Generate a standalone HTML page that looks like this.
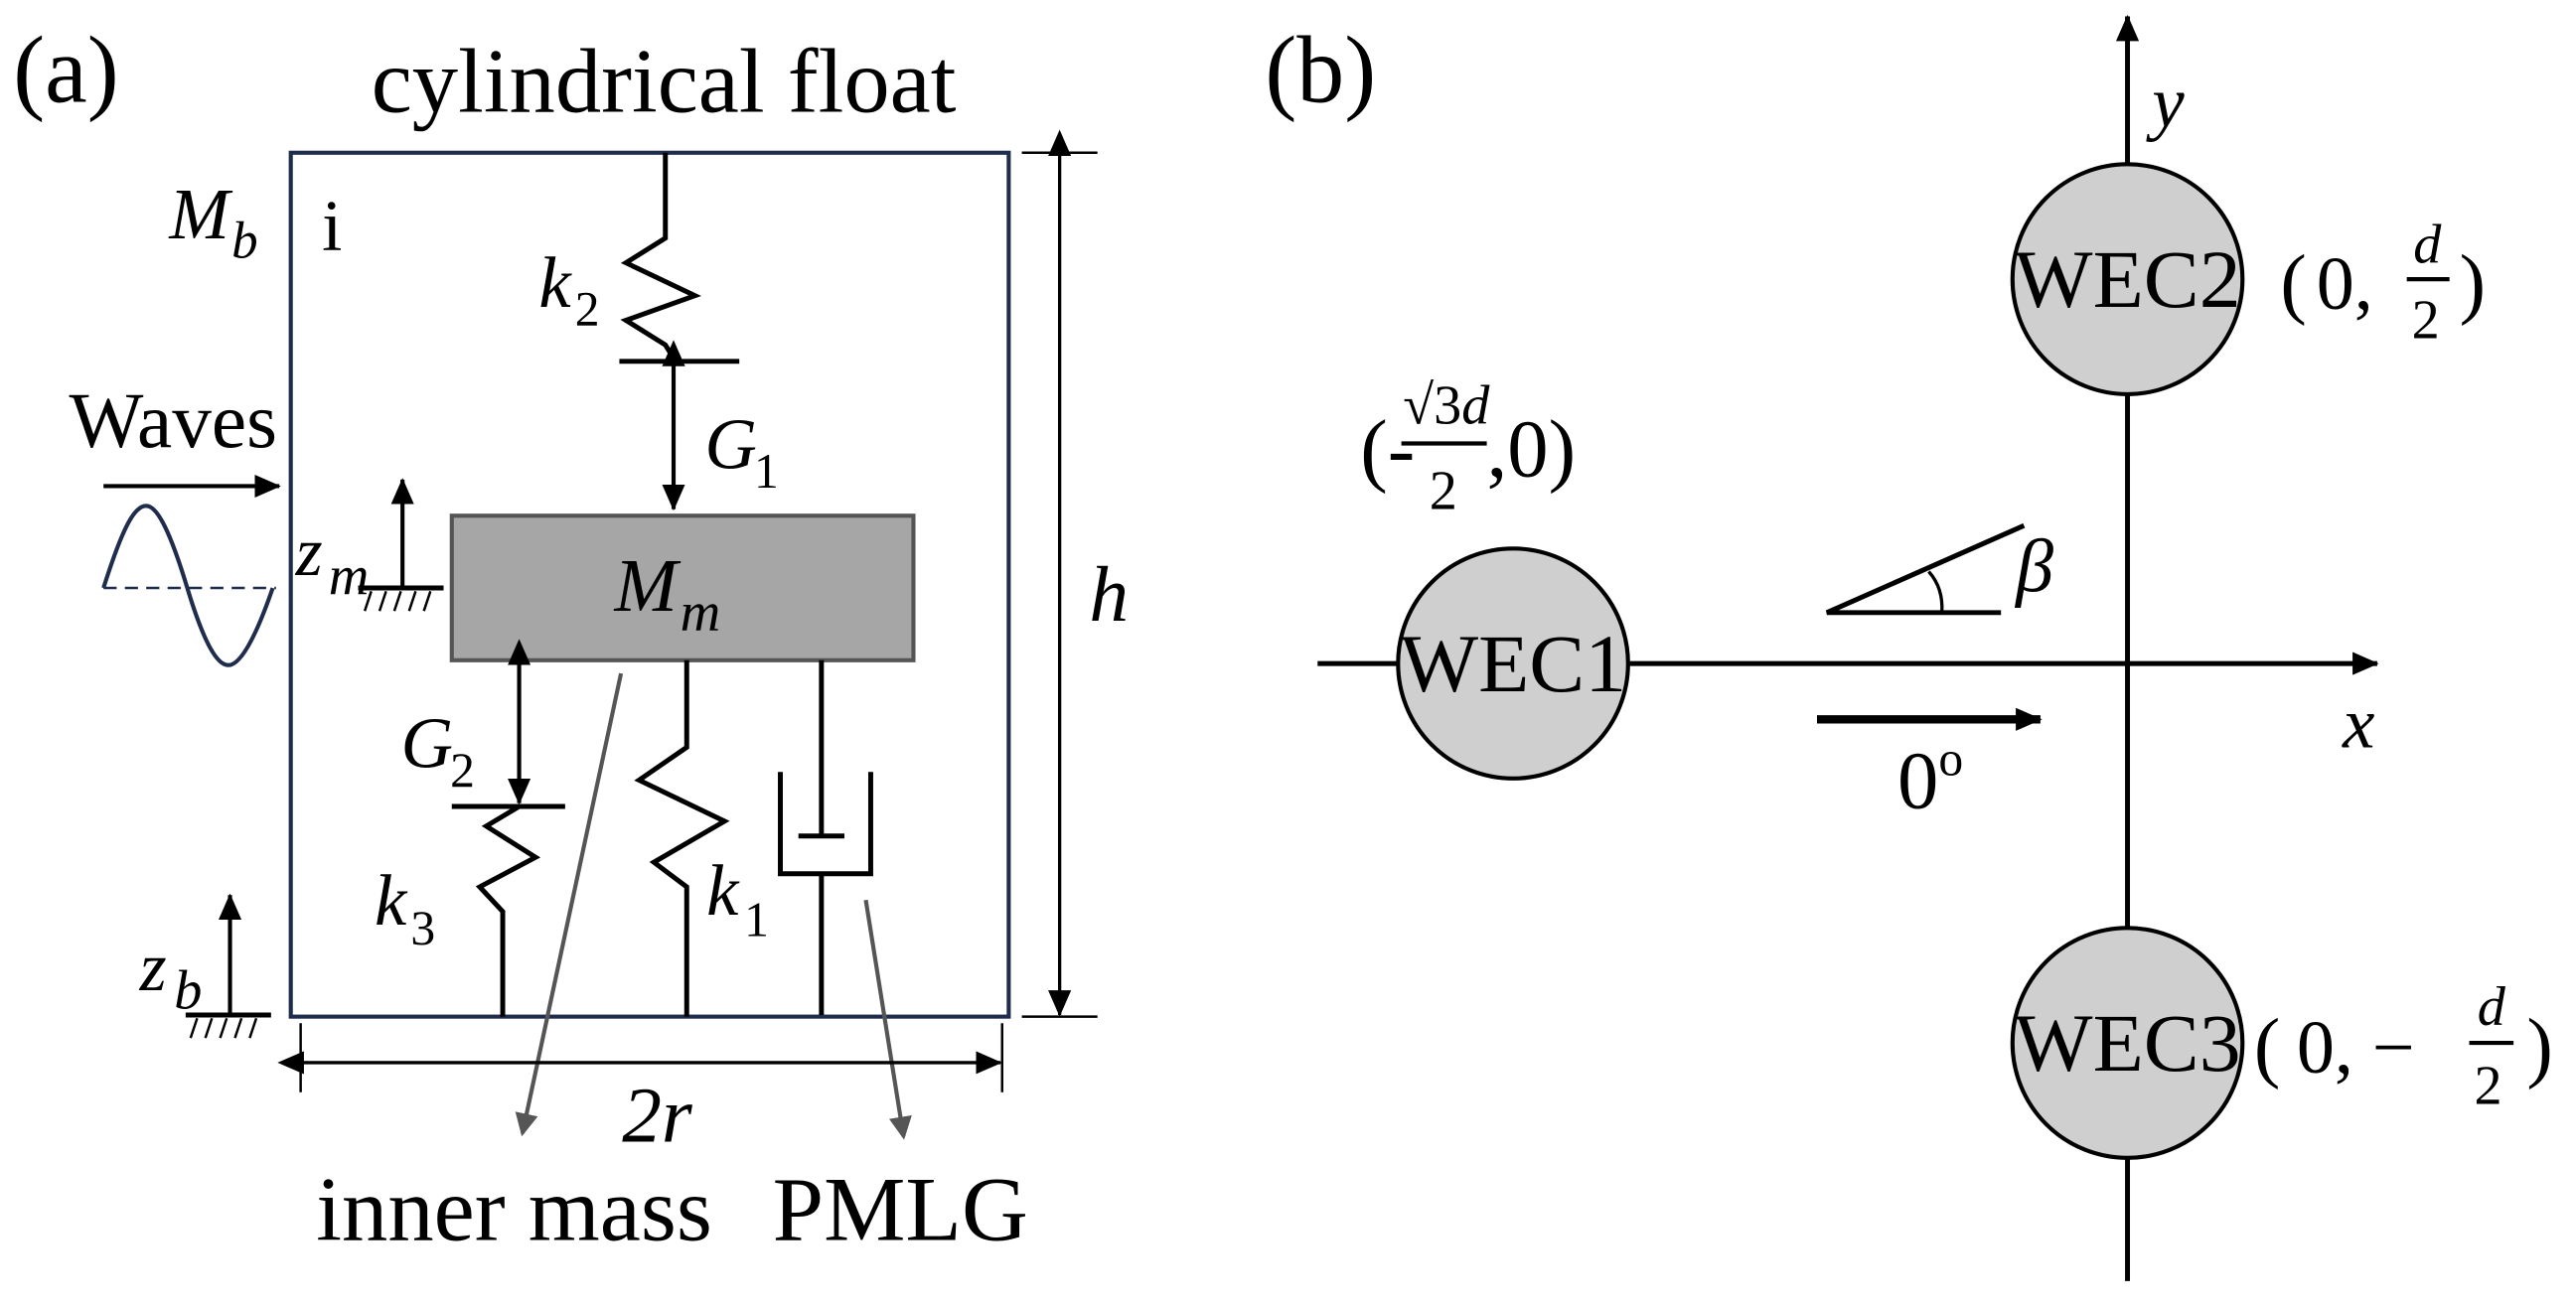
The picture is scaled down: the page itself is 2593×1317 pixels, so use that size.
<!DOCTYPE html>
<html><head><meta charset="utf-8"><style>
html,body{margin:0;padding:0;background:#fff;}
svg{display:block;}
text{font-family:"Liberation Serif",serif;fill:#000;}
.it{font-style:italic;}
</style></head><body>
<svg width="2593" height="1317" viewBox="0 0 1568 796.4" xmlns="http://www.w3.org/2000/svg">
<defs>
<marker id="ah" markerWidth="16" markerHeight="14" refX="15" refY="7" orient="auto" markerUnits="userSpaceOnUse"><path d="M0,0 L16,7 L0,14 z" fill="#000"/></marker>
<marker id="ahs" markerWidth="16" markerHeight="14" refX="1" refY="7" orient="auto-start-reverse" markerUnits="userSpaceOnUse"><path d="M0,0 L16,7 L0,14 z" fill="#000"/></marker>
<marker id="ag" markerWidth="14" markerHeight="14" refX="12" refY="7" orient="auto" markerUnits="userSpaceOnUse"><path d="M0,0 L14,7 L0,14 z" fill="#555"/></marker>
</defs>
<!-- panel a -->
<text x="8" y="62" font-size="58">(a)</text>
<text x="404" y="68" font-size="56" text-anchor="middle">cylindrical float</text>
<rect x="177" y="93" width="437" height="526" fill="none" stroke="#1f2d4d" stroke-width="2.5"/>
<text x="103" y="145" font-size="44" class="it">M</text><text x="141" y="157" font-size="32" class="it">b</text>
<text x="196" y="152" font-size="44">i</text>
<polyline points="405,93 405,145 381,160 423,180 381,195 405,210 410,218" fill="none" stroke="#000" stroke-width="3"/>
<line x1="377" y1="220" x2="450" y2="220" stroke="#000" stroke-width="3"/>
<text x="328" y="187" font-size="44" class="it">k</text><text x="350" y="198" font-size="30">2</text>
<line x1="410" y1="222" x2="410" y2="310" stroke="#000" stroke-width="2.5" marker-start="url(#ahs)" marker-end="url(#ah)"/>
<text x="429" y="285" font-size="44" class="it">G</text><text x="459" y="297" font-size="30">1</text>
<rect x="275" y="314" width="281" height="88" fill="#a6a6a6" stroke="#555" stroke-width="2.5"/>
<text x="374" y="372" font-size="46" class="it">M</text><text x="414" y="384" font-size="34" class="it">m</text>
<line x1="245" y1="358" x2="245" y2="292" stroke="#000" stroke-width="2.5" marker-end="url(#ah)"/>
<line x1="218" y1="358" x2="270" y2="358" stroke="#000" stroke-width="3"/>
<path d="M222,372 l4,-12 M231,372 l4,-12 M240,372 l4,-12 M249,372 l4,-12 M258,372 l4,-12" stroke="#000" stroke-width="1.5"/>
<text x="180" y="350" font-size="42" class="it">z</text><text x="200" y="362" font-size="34" class="it">m</text>
<text x="42" y="272" font-size="48">Waves</text>
<line x1="63" y1="296" x2="170" y2="296" stroke="#000" stroke-width="2.5" marker-end="url(#ah)"/>
<line x1="63" y1="358" x2="168" y2="358" stroke="#1f2d4d" stroke-width="1.5" stroke-dasharray="8,5"/>
<path d="M63,358 C75,320 82,308 89,308 C96,308 104,325 114,358 C124,391 132,405 139,405 C146,405 155,390 166,358" fill="none" stroke="#1f2d4d" stroke-width="2.5"/>
<line x1="316" y1="404" x2="316" y2="489" stroke="#000" stroke-width="2.5" marker-start="url(#ahs)" marker-end="url(#ah)"/>
<text x="244" y="467" font-size="44" class="it">G</text><text x="274" y="479" font-size="30">2</text>
<line x1="275" y1="491" x2="344" y2="491" stroke="#000" stroke-width="3"/>
<polyline points="316,491 296,503 326,522 292,540 306,555 306,619" fill="none" stroke="#000" stroke-width="3"/>
<text x="228" y="563" font-size="44" class="it">k</text><text x="250" y="575" font-size="30">3</text>
<polyline points="418,402 418,455 389,475 441,500 398,525 418,540 418,619" fill="none" stroke="#000" stroke-width="3"/>
<text x="430" y="557" font-size="44" class="it">k</text><text x="453" y="570" font-size="30">1</text>
<line x1="500" y1="402" x2="500" y2="509" stroke="#000" stroke-width="3"/>
<line x1="486" y1="509" x2="514" y2="509" stroke="#000" stroke-width="3"/>
<polyline points="475,470 475,532 530,532 530,470" fill="none" stroke="#000" stroke-width="3"/>
<line x1="500" y1="532" x2="500" y2="618" stroke="#000" stroke-width="3"/>
<line x1="378" y1="410" x2="318" y2="690" stroke="#555" stroke-width="2.5" marker-end="url(#ag)"/>
<line x1="527" y1="548" x2="550" y2="692" stroke="#555" stroke-width="2.5" marker-end="url(#ag)"/>
<line x1="622" y1="93" x2="668" y2="93" stroke="#000" stroke-width="1.5"/>
<line x1="622" y1="619" x2="668" y2="619" stroke="#000" stroke-width="1.5"/>
<line x1="645" y1="94" x2="645" y2="618" stroke="#000" stroke-width="2" marker-start="url(#ahs)" marker-end="url(#ah)"/>
<text x="663" y="378" font-size="48" class="it">h</text>
<line x1="183" y1="623" x2="183" y2="665" stroke="#000" stroke-width="1.5"/>
<line x1="610" y1="623" x2="610" y2="665" stroke="#000" stroke-width="1.5"/>
<line x1="184" y1="647" x2="609" y2="647" stroke="#000" stroke-width="2" marker-start="url(#ahs)" marker-end="url(#ah)"/>
<text x="400" y="695" font-size="48" text-anchor="middle" class="it">2r</text>
<line x1="140" y1="618" x2="140" y2="545" stroke="#000" stroke-width="2.5" marker-end="url(#ah)"/>
<line x1="113" y1="618" x2="165" y2="618" stroke="#000" stroke-width="3"/>
<path d="M116,632 l4,-12 M125,632 l4,-12 M134,632 l4,-12 M143,632 l4,-12 M152,632 l4,-12" stroke="#000" stroke-width="1.5"/>
<text x="85" y="603" font-size="42" class="it">z</text><text x="106" y="614" font-size="34" class="it">b</text>
<text x="313" y="755" font-size="56" text-anchor="middle">inner mass</text>
<text x="548" y="755" font-size="56" text-anchor="middle">PMLG</text>
<!-- panel b -->
<text x="770" y="62" font-size="58">(b)</text>
<line x1="1295" y1="780" x2="1295" y2="10" stroke="#000" stroke-width="3" marker-end="url(#ah)"/>
<line x1="802" y1="404" x2="1447" y2="404" stroke="#000" stroke-width="3" marker-end="url(#ah)"/>
<text x="1310" y="77" font-size="44" class="it">y</text>
<text x="1426" y="455" font-size="44" class="it">x</text>
<circle cx="1295" cy="170" r="70" fill="#d0cfd0" stroke="#000" stroke-width="2.5"/>
<circle cx="921" cy="404" r="70" fill="#d0cfd0" stroke="#000" stroke-width="2.5"/>
<circle cx="1295" cy="635" r="70" fill="#d0cfd0" stroke="#000" stroke-width="2.5"/>
<text x="1295" y="187" font-size="50" text-anchor="middle" textLength="138" lengthAdjust="spacingAndGlyphs">WEC2</text>
<text x="921" y="421" font-size="50" text-anchor="middle" textLength="138" lengthAdjust="spacingAndGlyphs">WEC1</text>
<text x="1295" y="652" font-size="50" text-anchor="middle" textLength="138" lengthAdjust="spacingAndGlyphs">WEC3</text>
<text x="1388" y="188" font-size="48">(</text>
<text x="1410" y="188" font-size="46">0,</text>
<text x="1469" y="160" font-size="34" class="it">d</text>
<line x1="1465" y1="170" x2="1491" y2="170" stroke="#000" stroke-width="2.5"/>
<text x="1468" y="206" font-size="34">2</text>
<text x="1497" y="188" font-size="48">)</text>
<text x="828" y="290" font-size="50">(-</text>
<text x="854" y="258" font-size="34">√3<tspan class="it">d</tspan></text>
<line x1="853" y1="270" x2="905" y2="270" stroke="#000" stroke-width="2.5"/>
<text x="870" y="310" font-size="34">2</text>
<text x="905" y="290" font-size="50">,0)</text>
<polyline points="1232,320 1112,373 1218,373" fill="none" stroke="#000" stroke-width="3"/>
<path d="M1174,348 Q1183,358 1182,373" fill="none" stroke="#000" stroke-width="2"/>
<text x="1227" y="360" font-size="46" class="it">β</text>
<line x1="1106" y1="438" x2="1242" y2="438" stroke="#000" stroke-width="5" marker-end="url(#ah)"/>
<text x="1155" y="492" font-size="50">0<tspan font-size="30" dy="-20">o</tspan></text>
<text x="1372" y="653" font-size="48">(</text>
<text x="1398" y="653" font-size="46">0, −</text>
<text x="1508" y="624" font-size="34" class="it">d</text>
<line x1="1503" y1="635" x2="1530" y2="635" stroke="#000" stroke-width="2.5"/>
<text x="1506" y="672" font-size="34">2</text>
<text x="1538" y="653" font-size="48">)</text>
</svg>
</body></html>
